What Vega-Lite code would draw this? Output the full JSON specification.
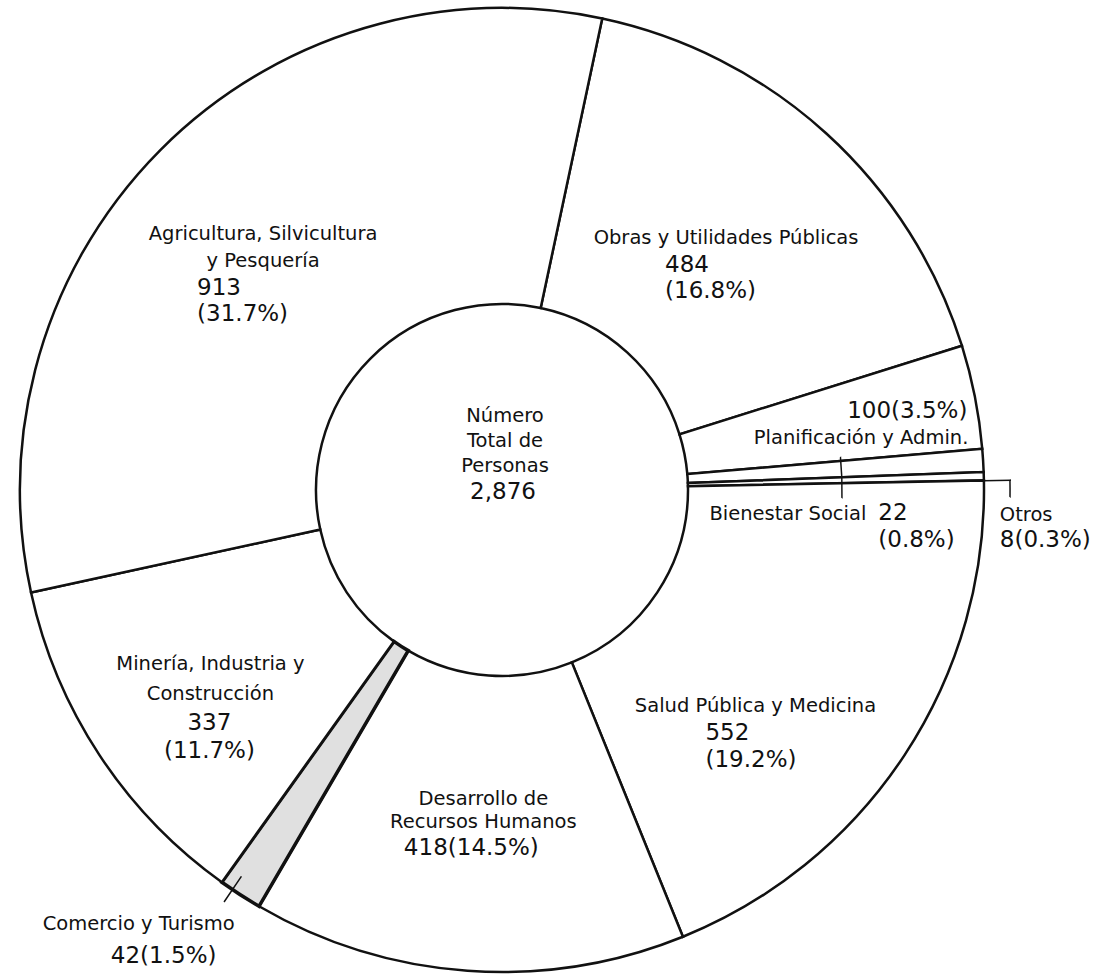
{
  "$schema": "https://vega.github.io/schema/vega-lite/v6.json",
  "width": 1004,
  "height": 980,
  "autosize": {"type": "none"},
  "padding": {"left": 0, "top": 0, "right": 106, "bottom": 0},
  "background": "white",
  "config": {"view": {"stroke": null}, "text": {"font": "DejaVu Sans", "color": "#111", "baseline": "alphabetic", "lineBreak": "\n"}},
  "data": {"values": [
    {"orden": 1, "sector": "Obras y Utilidades Públicas", "n": 484, "pct": 16.8},
    {"orden": 2, "sector": "Planificación y Admin.", "n": 100, "pct": 3.5},
    {"orden": 3, "sector": "Bienestar Social", "n": 22, "pct": 0.8},
    {"orden": 4, "sector": "Otros", "n": 8, "pct": 0.3},
    {"orden": 5, "sector": "Salud Pública y Medicina", "n": 552, "pct": 19.2},
    {"orden": 6, "sector": "Desarrollo de\nRecursos Humanos", "n": 418, "pct": 14.5},
    {"orden": 7, "sector": "Comercio y Turismo", "n": 42, "pct": 1.5},
    {"orden": 8, "sector": "Minería, Industria y\nConstrucción", "n": 337, "pct": 11.7},
    {"orden": 9, "sector": "Agricultura, Silvicultura\ny Pesquería", "n": 913, "pct": 31.7}
  ]},
  "layer": [
    {
      "transform": [
        {"calculate": "datum.n + '\\n(' + format(datum.pct, '.1f') + '%)'", "as": "num_apilado"},
        {"calculate": "datum.n + '(' + format(datum.pct, '.1f') + '%)'", "as": "num_linea"}
      ],
      "encoding": {
        "theta": {"field": "n", "type": "quantitative", "stack": true, "scale": {"range": [0.20944, 6.49262], "nice": false, "zero": true}},
        "order": {"field": "orden", "type": "quantitative"}
      },
      "layer": [
        {
          "mark": {"type": "arc", "innerRadius": 186, "outerRadius": 482, "stroke": "#111"},
          "encoding": {
            "color": {"condition": {"test": "datum.orden === 7", "value": "#e0e0e0"}, "value": "white"},
            "strokeWidth": {"condition": {"test": "datum.orden === 7", "value": 3.5}, "value": 2.5}
          }
        },
        {
          "mark": {"type": "arc", "innerRadius": 339.3, "outerRadius": 340.8, "thetaOffset": -0.6198, "padAngle": 0.747, "color": "#111"},
          "encoding": {"opacity": {"condition": {"test": "datum.orden === 5", "value": 1}, "value": 0}}
        },
        {
          "mark": {"type": "arc", "innerRadius": 507.3, "outerRadius": 508.8, "thetaOffset": -0.5859, "padAngle": 0.803, "color": "#111"},
          "encoding": {"opacity": {"condition": {"test": "datum.orden === 5", "value": 1}, "value": 0}}
        },
        {
          "mark": {"type": "arc", "innerRadius": 481, "outerRadius": 509, "thetaOffset": 0.0094, "padAngle": 0.2, "color": "#111", "stroke": "#111", "strokeWidth": 1.5},
          "encoding": {"opacity": {"condition": {"test": "datum.orden === 4", "value": 1}, "value": 0}}
        },
        {
          "mark": {"type": "arc", "innerRadius": 466, "outerRadius": 497, "thetaOffset": 0.0192, "padAngle": 0.2, "color": "#111", "stroke": "#111", "strokeWidth": 1.5},
          "encoding": {"opacity": {"condition": {"test": "datum.orden === 7", "value": 1}, "value": 0}}
        },
        {
          "mark": {"type": "text", "radius": 330, "dx": -5, "dy": -17, "align": "center", "fontSize": 19.5, "lineHeight": 27},
          "encoding": {"text": {"field": "sector"}, "opacity": {"condition": {"test": "datum.orden === 9", "value": 1}, "value": 0}}
        },
        {
          "mark": {"type": "text", "radius": 330, "dx": -71, "dy": 38, "align": "left", "fontSize": 23, "lineHeight": 26},
          "encoding": {"text": {"field": "num_apilado"}, "opacity": {"condition": {"test": "datum.orden === 9", "value": 1}, "value": 0}}
        },
        {
          "mark": {"type": "text", "radius": 330, "dx": 2, "dy": -2, "align": "center", "fontSize": 19.5},
          "encoding": {"text": {"field": "sector"}, "opacity": {"condition": {"test": "datum.orden === 1", "value": 1}, "value": 0}}
        },
        {
          "mark": {"type": "text", "radius": 330, "dx": -59, "dy": 26, "align": "left", "fontSize": 23, "lineHeight": 26},
          "encoding": {"text": {"field": "num_apilado"}, "opacity": {"condition": {"test": "datum.orden === 1", "value": 1}, "value": 0}}
        },
        {
          "mark": {"type": "text", "radius": 400, "dx": 73, "dy": 5, "align": "right", "fontSize": 23},
          "encoding": {"text": {"field": "num_linea"}, "opacity": {"condition": {"test": "datum.orden === 2", "value": 1}, "value": 0}}
        },
        {
          "mark": {"type": "text", "radius": 400, "dx": 74, "dy": 31, "align": "right", "fontSize": 19.5},
          "encoding": {"text": {"field": "sector"}, "opacity": {"condition": {"test": "datum.orden === 2", "value": 1}, "value": 0}}
        },
        {
          "mark": {"type": "text", "radius": 360, "dx": 5, "dy": 52, "align": "right", "fontSize": 19.5},
          "encoding": {"text": {"field": "sector"}, "opacity": {"condition": {"test": "datum.orden === 3", "value": 1}, "value": 0}}
        },
        {
          "mark": {"type": "text", "radius": 360, "dx": 17, "dy": 52, "align": "left", "fontSize": 23, "lineHeight": 27},
          "encoding": {"text": {"field": "num_apilado"}, "opacity": {"condition": {"test": "datum.orden === 3", "value": 1}, "value": 0}}
        },
        {
          "mark": {"type": "text", "radius": 500, "dx": -2, "dy": 45, "align": "left", "fontSize": 19.5},
          "encoding": {"text": {"field": "sector"}, "opacity": {"condition": {"test": "datum.orden === 4", "value": 1}, "value": 0}}
        },
        {
          "mark": {"type": "text", "radius": 500, "dx": -2, "dy": 71, "align": "left", "fontSize": 23},
          "encoding": {"text": {"field": "num_linea"}, "opacity": {"condition": {"test": "datum.orden === 4", "value": 1}, "value": 0}}
        },
        {
          "mark": {"type": "text", "radius": 330, "dx": -22, "dy": 40, "align": "center", "fontSize": 19.5},
          "encoding": {"text": {"field": "sector"}, "opacity": {"condition": {"test": "datum.orden === 5", "value": 1}, "value": 0}}
        },
        {
          "mark": {"type": "text", "radius": 330, "dx": -72, "dy": 68, "align": "left", "fontSize": 23, "lineHeight": 27},
          "encoding": {"text": {"field": "num_apilado"}, "opacity": {"condition": {"test": "datum.orden === 5", "value": 1}, "value": 0}}
        },
        {
          "mark": {"type": "text", "radius": 330, "dx": 5, "dy": -14, "align": "center", "fontSize": 19.5, "lineHeight": 23},
          "encoding": {"text": {"field": "sector"}, "opacity": {"condition": {"test": "datum.orden === 6", "value": 1}, "value": 0}}
        },
        {
          "mark": {"type": "text", "radius": 330, "dx": -7, "dy": 36, "align": "center", "fontSize": 23},
          "encoding": {"text": {"field": "num_linea"}, "opacity": {"condition": {"test": "datum.orden === 6", "value": 1}, "value": 0}}
        },
        {
          "mark": {"type": "text", "radius": 540, "dx": -70, "dy": -13, "align": "center", "fontSize": 19.5},
          "encoding": {"text": {"field": "sector"}, "opacity": {"condition": {"test": "datum.orden === 7", "value": 1}, "value": 0}}
        },
        {
          "mark": {"type": "text", "radius": 540, "dx": -45, "dy": 20, "align": "center", "fontSize": 23},
          "encoding": {"text": {"field": "num_linea"}, "opacity": {"condition": {"test": "datum.orden === 7", "value": 1}, "value": 0}}
        },
        {
          "mark": {"type": "text", "radius": 330, "dx": -16, "dy": -2, "align": "center", "fontSize": 19.5, "lineHeight": 30},
          "encoding": {"text": {"field": "sector"}, "opacity": {"condition": {"test": "datum.orden === 8", "value": 1}, "value": 0}}
        },
        {
          "mark": {"type": "text", "radius": 330, "dx": -17, "dy": 58, "align": "center", "fontSize": 23, "lineHeight": 28},
          "encoding": {"text": {"field": "num_apilado"}, "opacity": {"condition": {"test": "datum.orden === 8", "value": 1}, "value": 0}}
        }
      ]
    },
    {
      "data": {"values": [{"titulo": "Número\nTotal de\nPersonas"}]},
      "mark": {"type": "text", "dx": 3, "dy": -68, "align": "center", "fontSize": 19.5, "lineHeight": 25},
      "encoding": {"text": {"field": "titulo"}}
    },
    {
      "mark": {"type": "text", "dx": 1, "dy": 9, "align": "center", "fontSize": 23},
      "encoding": {"text": {"aggregate": "sum", "field": "n", "type": "quantitative", "format": ","}}
    }
  ]
}
